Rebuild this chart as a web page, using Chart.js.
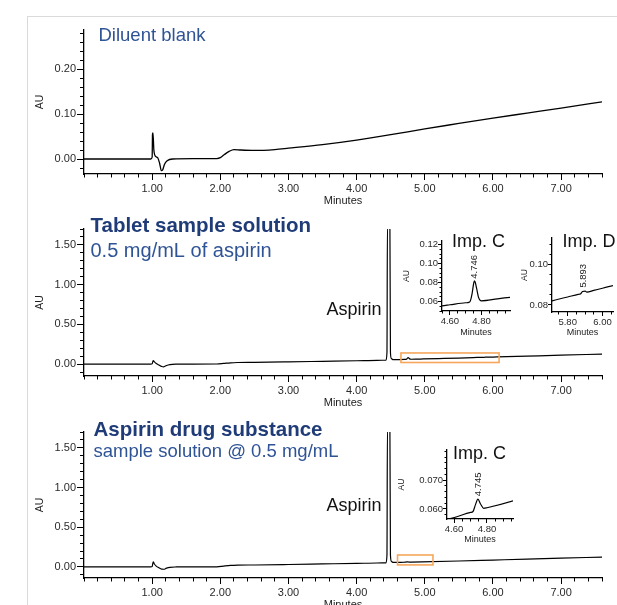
<!DOCTYPE html>
<html>
<head>
<meta charset="utf-8">
<script src="https://cdn.jsdelivr.net/npm/chart.js@4.4.1/dist/chart.umd.min.js"></script>
<style>
  html, body { margin: 0; padding: 0; background: #fff; }
  body { width: 617px; height: 605px; position: relative; overflow: hidden; }
  #frame { position: absolute; left: 27px; top: 16px; width: 600px; height: 600px;
           border-top: 1px solid #dadada; border-left: 1px solid #dadada; }
  canvas { position: absolute; }
</style>
</head>
<body>
<div id="frame"></div>
<canvas id="blank"></canvas>
<canvas id="tablet"></canvas>
<canvas id="drug"></canvas>
<canvas id="tabletImpC"></canvas>
<canvas id="tabletImpD"></canvas>
<canvas id="drugImpC"></canvas>
<script>
// Diluent blank
const blankTime = [0, 0.98, 1.0, 1.005, 1.012, 1.025, 1.05, 1.08, 1.11, 1.135, 1.155, 1.18, 1.22, 1.3, 1.6, 1.95, 2.0, 2.06, 2.13, 2.2, 2.3, 2.5, 2.8, 3.0, 3.5, 4.0, 4.5, 5.0, 5.5, 6.0, 6.5, 7.0, 7.6];
const blankAU = [0, 0, 0.004, 0.055, 0.058, 0.02, 0.006, 0.003, -0.01, -0.026, -0.024, -0.012, -0.004, 0, 0.001, 0.001, 0.003, 0.01, 0.017, 0.021, 0.020, 0.019, 0.021, 0.024, 0.032, 0.042, 0.054, 0.067, 0.079, 0.091, 0.102, 0.113, 0.127];

// Tablet sample solution (aspirin peak runs off scale)
const tabletTime = [0, 0.98, 1.0, 1.015, 1.03, 1.06, 1.1, 1.14, 1.17, 1.21, 1.26, 1.35, 1.6, 1.95, 2.05, 2.15, 2.25, 2.5, 3.0, 3.5, 4.0, 4.3, 4.43, 4.445, 4.452, 4.488, 4.496, 4.51, 4.53, 4.55, 4.6, 4.7, 4.72, 4.73, 4.74, 4.75, 4.755, 4.76, 4.77, 4.78, 4.79, 4.8, 4.9, 4.98, 5.2, 5.5, 5.71, 5.8, 5.86, 5.875, 5.885, 5.9, 5.91, 5.95, 6.06, 6.5, 7.0, 7.6];
const tabletAU = [0, 0, 0.003, 0.045, 0.03, 0.008, -0.012, -0.03, -0.034, -0.018, -0.006, -0.001, 0, 0.001, 0.008, 0.016, 0.02, 0.022, 0.028, 0.035, 0.042, 0.047, 0.049, 0.15, 1.75, 1.75, 0.15, 0.07, 0.057, 0.0555, 0.0566, 0.0587, 0.0591, 0.061, 0.068, 0.079, 0.082, 0.0805, 0.073, 0.065, 0.0615, 0.0608, 0.0629, 0.0645, 0.069, 0.0755, 0.082, 0.0839, 0.0852, 0.0855, 0.0866, 0.0868, 0.0863, 0.0872, 0.0895, 0.1, 0.112, 0.126];

// Aspirin drug substance
const drugTime = [0, 0.98, 1.0, 1.015, 1.03, 1.06, 1.1, 1.14, 1.17, 1.21, 1.26, 1.35, 1.6, 1.95, 2.05, 2.15, 2.25, 2.5, 3.0, 3.5, 4.0, 4.3, 4.43, 4.445, 4.452, 4.488, 4.496, 4.51, 4.53, 4.56, 4.7, 4.715, 4.73, 4.745, 4.76, 4.78, 4.8, 4.96, 5.5, 6.0, 6.5, 7.0, 7.6];
const drugAU = [0, 0, 0.004, 0.065, 0.04, 0.01, -0.012, -0.028, -0.03, -0.016, -0.005, -0.001, 0, 0.001, 0.01, 0.018, 0.022, 0.024, 0.03, 0.037, 0.044, 0.049, 0.051, 0.15, 1.75, 1.75, 0.15, 0.07, 0.058, 0.0566, 0.0588, 0.0591, 0.0615, 0.0634, 0.0618, 0.0602, 0.0604, 0.0628, 0.074, 0.086, 0.098, 0.11, 0.124];

// labelled ticks
const mainMinuteLabels = [1, 2, 3, 4, 5, 6, 7];
const blankAULabels = [0, 0.1, 0.2];
const sampleAULabels = [0, 0.5, 1.0, 1.5];
const impCMinuteLabels = [4.6, 4.8];
const impDMinuteLabels = [5.8, 6.0];
const tabletImpCAULabels = [0.06, 0.08, 0.10, 0.12];
const tabletImpDAULabels = [0.08, 0.10];
const drugImpCAULabels = [0.060, 0.070];

// integrated peaks shown in the zoomed views
const tabletImpCPeak = { rt: '4.746', t: 4.755, au: 0.082 };
const tabletImpDPeak = { rt: '5.893', t: 5.89, au: 0.0868 };
const drugImpCPeak = { rt: '4.745', t: 4.745, au: 0.0634 };

const FONT = '"Liberation Sans", Arial, sans-serif';
const TITLE_BLUE = '#2f5496';
const DARK_BLUE = '#1f3c78';

function ticksEvery(min, max, step) {
  const out = [];
  const first = Math.ceil(min / step - 1e-9), last = Math.floor(max / step + 1e-9);
  for (let i = first; i <= last; i++) out.push({ value: +(i * step).toFixed(6) });
  return out;
}

// a labelled axis with long ticks plus a zero-size twin that carries the short minor ticks
function axisPair(id, pos, o) {
  const horiz = pos === 'bottom';
  const s = {};
  s[id] = {
    type: 'linear', position: pos, min: o.min, max: o.max,
    afterBuildTicks: sc => { sc.ticks = o.labels.map(v => ({ value: v })); },
    afterFit: sc => {
      if (horiz) sc.height = o.size; else sc.width = o.size;
      sc.paddingLeft = sc.paddingRight = sc.paddingTop = sc.paddingBottom = 0;
    },
    ticks: { autoSkip: false, maxRotation: 0, padding: o.labelPad, color: '#2a2a2a',
             font: { family: FONT, size: o.fontSize }, callback: v => v.toFixed(o.digits) },
    grid: { drawOnChartArea: false, tickLength: o.majorLen, tickColor: '#000', tickWidth: 1 },
    border: { display: true, color: '#000', width: 1.3 },
    title: { display: true, text: o.title, color: '#222', font: { family: FONT, size: o.titleSize },
             padding: horiz ? { top: 0, bottom: o.titlePad } : { top: o.titlePad, bottom: 0 } }
  };
  s[id + 'm'] = {
    type: 'linear', position: pos, min: o.min, max: o.max, weight: -1,
    afterBuildTicks: sc => { sc.ticks = ticksEvery(o.min, o.max, o.minorStep); },
    afterFit: sc => {
      if (horiz) sc.height = 0; else sc.width = 0;
      sc.paddingLeft = sc.paddingRight = sc.paddingTop = sc.paddingBottom = 0;
    },
    ticks: { display: false, autoSkip: false },
    grid: { drawOnChartArea: false, tickLength: o.minorLen, tickColor: '#000', tickWidth: 1 },
    border: { display: false }
  };
  return s;
}

function notes(c) {
  return {
    id: 'notes',
    afterDatasetsDraw(chart) {
      const ctx = chart.ctx, xs = chart.scales.x, ys = chart.scales.y;
      (c.boxes || []).forEach(b => {
        const x1 = xs.getPixelForValue(b.x[0]), x2 = xs.getPixelForValue(b.x[1]);
        const y1 = ys.getPixelForValue(b.y[1]), y2 = ys.getPixelForValue(b.y[0]);
        ctx.save();
        ctx.strokeStyle = '#f6a75c';
        ctx.lineWidth = 1.6;
        ctx.strokeRect(x1, y1, x2 - x1, y2 - y1);
        ctx.restore();
      });
      (c.texts || []).forEach(t => {
        let x, y;
        if (t.at) {
          x = xs.getPixelForValue(t.at[0]) + (t.dx || 0);
          y = ys.getPixelForValue(t.at[1]) + (t.dy || 0);
        } else {
          x = t.x - c.left;
          y = t.y - c.top;
        }
        ctx.save();
        ctx.font = t.font;
        ctx.fillStyle = t.color || '#111';
        ctx.translate(x, y);
        if (t.rot) ctx.rotate(t.rot);
        ctx.textAlign = t.align || 'left';
        ctx.textBaseline = t.baseline || 'alphabetic';
        ctx.fillText(t.text, 0, 0);
        ctx.restore();
      });
    }
  };
}

function makeChart(id, c) {
  const cv = document.getElementById(id);
  cv.width = c.w; cv.height = c.h;
  cv.style.left = c.left + 'px'; cv.style.top = c.top + 'px';
  return new Chart(cv, {
    type: 'line',
    data: {
      datasets: [{
        data: c.time.map((t, i) => ({ x: t, y: c.au[i] })),
        xAxisID: 'x', yAxisID: 'y',
        borderColor: '#000', borderWidth: c.lineWidth || 1.2,
        pointRadius: 0, cubicInterpolationMode: 'monotone', clip: 0
      }]
    },
    options: {
      responsive: false, animation: false, events: [],
      layout: { padding: { left: 0, top: c.padTop, right: c.padRight, bottom: 0 } },
      scales: Object.assign({}, axisPair('x', 'bottom', c.x), axisPair('y', 'left', c.y)),
      plugins: { legend: { display: false }, tooltip: { enabled: false } }
    },
    plugins: [notes(c)]
  });
}

const mainX = { min: 0, max: 7.6, labels: mainMinuteLabels, minorStep: 0.2, digits: 2, majorLen: 6, minorLen: 3.5,
                size: 36, fontSize: 11, labelPad: 2, title: 'Minutes', titleSize: 11, titlePad: 2 };
const mainY = { minorStep: 0.1, digits: 2, majorLen: 7, minorLen: 4, size: 84, fontSize: 11, labelPad: 1,
                title: 'AU', titleSize: 10.5, titlePad: 34 };
const insetX = { minorStep: 0.05, digits: 2, majorLen: 4, minorLen: 2.5, fontSize: 9.5, labelPad: 1,
                 title: 'Minutes', titleSize: 9 };
const insetY = { digits: 2, majorLen: 4, minorLen: 2.5, fontSize: 9.5, labelPad: 0, title: 'AU', titleSize: 8.5 };

makeChart('blank', {
  left: 0, top: 0, w: 617, h: 210, padTop: 30, padRight: 15,
  time: blankTime, au: blankAU, lineWidth: 1.3,
  x: mainX,
  y: Object.assign({}, mainY, { min: -0.0333, max: 0.2867, labels: blankAULabels, minorStep: 0.02 }),
  texts: [{ text: 'Diluent blank', x: 98.5, y: 41, font: '18.5px ' + FONT, color: TITLE_BLUE }]
});

makeChart('tablet', {
  left: 0, top: 205, w: 617, h: 207, padTop: 24, padRight: 15,
  time: tabletTime, au: tabletAU, lineWidth: 1.2,
  x: mainX,
  y: Object.assign({}, mainY, { min: -0.15, max: 1.70, labels: sampleAULabels }),
  boxes: [{ x: [4.65, 6.09], y: [0.02, 0.14] }],
  texts: [
    { text: 'Tablet sample solution', x: 90.5, y: 231.5, font: 'bold 20.5px ' + FONT, color: DARK_BLUE },
    { text: '0.5 mg/mL of aspirin', x: 90.5, y: 256.5, font: '20px ' + FONT, color: TITLE_BLUE },
    { text: 'Aspirin', x: 381.5, y: 315, font: '18px ' + FONT, align: 'right' }
  ]
});

makeChart('drug', {
  left: 0, top: 410, w: 617, h: 204, padTop: 22, padRight: 15,
  time: drugTime, au: drugAU, lineWidth: 1.2,
  x: mainX,
  y: Object.assign({}, mainY, { min: -0.14, max: 1.70, labels: sampleAULabels }),
  boxes: [{ x: [4.60, 5.12], y: [0.025, 0.15] }],
  texts: [
    { text: 'Aspirin drug substance', x: 93.5, y: 436, font: 'bold 20.5px ' + FONT, color: DARK_BLUE },
    { text: 'sample solution @ 0.5 mg/mL', x: 93.5, y: 456.5, font: '18.5px ' + FONT, color: TITLE_BLUE },
    { text: 'Aspirin', x: 381.5, y: 511, font: '18px ' + FONT, align: 'right' }
  ]
});

makeChart('tabletImpC', {
  left: 398, top: 228, w: 122, h: 112, padTop: 13, padRight: 10,
  time: tabletTime, au: tabletAU, lineWidth: 1.2,
  x: Object.assign({}, insetX, { min: 4.55, max: 4.98, labels: impCMinuteLabels, size: 29, titlePad: 2 }),
  y: Object.assign({}, insetY, { min: 0.05, max: 0.124, labels: tabletImpCAULabels, minorStep: 0.005, size: 44, titlePad: 4 }),
  texts: [
    { text: 'Imp. C', x: 452, y: 246.5, font: '18px ' + FONT },
    { text: tabletImpCPeak.rt, at: [tabletImpCPeak.t, tabletImpCPeak.au], dy: -2, rot: -Math.PI / 2,
      baseline: 'middle', font: '9.5px ' + FONT, color: '#222' }
  ]
});

makeChart('tabletImpD', {
  left: 508, top: 228, w: 109, h: 112, padTop: 10, padRight: 4,
  time: tabletTime, au: tabletAU, lineWidth: 1.2,
  x: Object.assign({}, insetX, { min: 5.71, max: 6.06, labels: impDMinuteLabels, size: 28, titlePad: 2.4 }),
  y: Object.assign({}, insetY, { min: 0.0765, max: 0.113, labels: tabletImpDAULabels, minorStep: 0.005, size: 44, titlePad: 12 }),
  texts: [
    { text: 'Imp. D', x: 562.5, y: 246.5, font: '18px ' + FONT },
    { text: tabletImpDPeak.rt, at: [tabletImpDPeak.t, tabletImpDPeak.au], dy: -3.5, rot: -Math.PI / 2,
      baseline: 'middle', font: '9.5px ' + FONT, color: '#222' }
  ]
});

makeChart('drugImpC', {
  left: 392, top: 438, w: 133, h: 110, padTop: 12, padRight: 12,
  time: drugTime, au: drugAU, lineWidth: 1.2,
  x: Object.assign({}, insetX, { min: 4.557, max: 4.958, labels: impCMinuteLabels, size: 29, titlePad: 2.7 }),
  y: Object.assign({}, insetY, { min: 0.0565, max: 0.0805, labels: drugImpCAULabels, minorStep: 0.002, digits: 3, size: 55, titlePad: 4.7 }),
  texts: [
    { text: 'Imp. C', x: 453, y: 458.5, font: '18px ' + FONT },
    { text: drugImpCPeak.rt, at: [drugImpCPeak.t, drugImpCPeak.au], dy: -3, rot: -Math.PI / 2,
      baseline: 'middle', font: '9.5px ' + FONT, color: '#222' }
  ]
});
</script>
</body>
</html>
